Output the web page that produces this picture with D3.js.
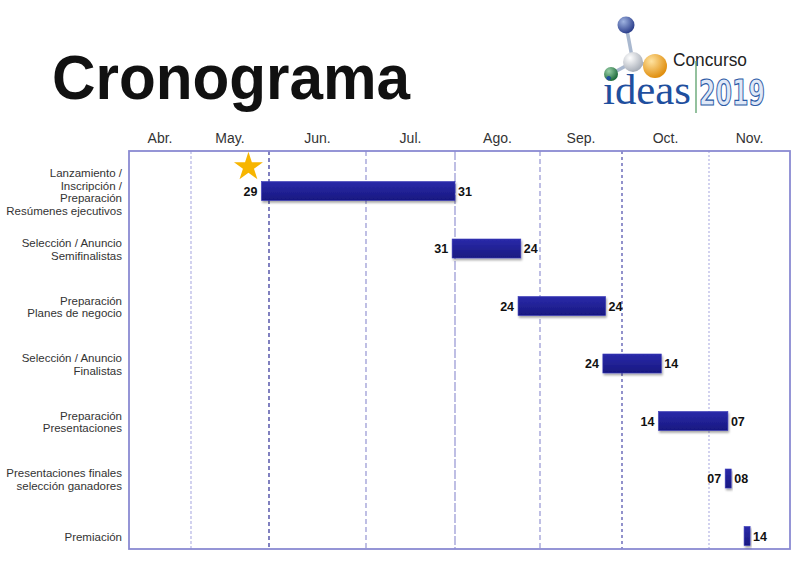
<!DOCTYPE html>
<html>
<head>
<meta charset="utf-8">
<script src="https://cdn.jsdelivr.net/npm/d3@7"></script>
<style>
  html, body { margin: 0; padding: 0; background: #fff; }
  svg { display: block; }
</style>
</head>
<body>
<svg id="chart" width="800" height="563"></svg>
<script>
// ---------- DATA ----------
const titleText = "Cronograma";
const months = ["Abr.", "May.", "Jun.", "Jul.", "Ago.", "Sep.", "Oct.", "Nov."];
const monthStarts = ["2019-04-01", "2019-05-01", "2019-06-01", "2019-07-01", "2019-08-01",
                     "2019-09-01", "2019-10-01", "2019-11-01", "2019-12-01"];
const taskLabels = [
  ["Lanzamiento /", "Inscripción /", "Preparación", "Resúmenes ejecutivos"],
  ["Selección / Anuncio", "Semifinalistas"],
  ["Preparación", "Planes de negocio"],
  ["Selección / Anuncio", "Finalistas"],
  ["Preparación", "Presentaciones"],
  ["Presentaciones finales", "selección ganadores"],
  ["Premiación"]
];
const startDates = ["2019-05-29", "2019-07-31", "2019-08-24", "2019-09-24", "2019-10-14", "2019-11-07", "2019-11-14"];
const endDates   = ["2019-07-31", "2019-08-24", "2019-09-24", "2019-10-14", "2019-11-07", "2019-11-08", "2019-11-14"];
const startLabels = ["29", "31", "24", "24", "14", "07", ""];
const endLabels   = ["31", "24", "24", "14", "07", "08", "14"];
const logoWord1 = "Concurso";
const logoWord2 = "ideas";
const logoYear = "2019";

// ---------- SETUP ----------
const svg = d3.select("#chart");
const parse = d3.timeParse("%Y-%m-%d");
const frame = { left: 129, right: 790, top: 151, bottom: 549 };

const x = d3.scaleTime()
  .domain(monthStarts.map(parse))
  .range([129, 191, 269, 366, 455, 540, 622, 709, 790]);

const rows = taskLabels.map((d, i) => i);
const y = d3.scalePoint().domain(rows).range([191, 536]);

const defs = svg.append("defs");
const grad = defs.append("linearGradient").attr("id", "barGrad")
  .attr("x1", 0).attr("y1", 0).attr("x2", 0).attr("y2", 1);
grad.append("stop").attr("offset", "0%").attr("stop-color", "#2a2aaa");
grad.append("stop").attr("offset", "100%").attr("stop-color", "#181880");
const shadow = defs.append("filter").attr("id", "shadow")
  .attr("x", "-20%").attr("y", "-30%").attr("width", "150%").attr("height", "180%");
shadow.append("feDropShadow").attr("dx", 1).attr("dy", 2).attr("stdDeviation", 1.2)
  .attr("flood-color", "#000").attr("flood-opacity", 0.35);

function ball(id, c1, c2) {
  const g = defs.append("radialGradient").attr("id", id)
    .attr("cx", "35%").attr("cy", "30%").attr("r", "70%");
  g.append("stop").attr("offset", "0%").attr("stop-color", c1);
  g.append("stop").attr("offset", "100%").attr("stop-color", c2);
}
ball("ballBlue", "#9fb3e0", "#2c3f8c");
ball("ballWhite", "#ffffff", "#a8aeb8");
ball("ballOrange", "#ffe3a0", "#e08f10");
ball("ballGreen", "#9ad0a8", "#1d6a3a");

// ---------- TITLE ----------
svg.append("text")
  .attr("x", 52).attr("y", 99)
  .attr("font-family", "Liberation Sans, Arial, sans-serif")
  .attr("font-weight", "bold").attr("font-size", 63)
  .attr("textLength", 358).attr("lengthAdjust", "spacingAndGlyphs")
  .attr("fill", "#111").text(titleText);

// ---------- LOGO ----------
const logo = svg.append("g");
const balls = [
  { cx: 626, cy: 25, r: 8.5, f: "ballBlue" },
  { cx: 633, cy: 62, r: 10, f: "ballWhite" },
  { cx: 655, cy: 66, r: 12, f: "ballOrange" },
  { cx: 611, cy: 74, r: 7, f: "ballGreen" }
];
[[0, 1], [1, 2], [1, 3]].forEach(([a, b]) => {
  logo.append("line")
    .attr("x1", balls[a].cx).attr("y1", balls[a].cy)
    .attr("x2", balls[b].cx).attr("y2", balls[b].cy)
    .attr("stroke", "#a9b8cf").attr("stroke-width", 3.5);
});
logo.selectAll("circle.ball").data(balls).join("circle")
  .attr("class", "ball")
  .attr("cx", d => d.cx).attr("cy", d => d.cy).attr("r", d => d.r)
  .attr("fill", d => `url(#${d.f})`);
logo.append("text").attr("x", 673).attr("y", 66)
  .attr("font-family", "Liberation Sans, Arial, sans-serif").attr("font-size", 18)
  .attr("textLength", 74).attr("lengthAdjust", "spacingAndGlyphs")
  .attr("fill", "#222").text(logoWord1);
logo.append("text").attr("x", 603).attr("y", 104)
  .attr("font-family", "Liberation Serif, serif").attr("font-size", 42)
  .attr("textLength", 88).attr("lengthAdjust", "spacingAndGlyphs")
  .attr("fill", "#1f4f9e").text(logoWord2);
logo.append("line").attr("x1", 696).attr("x2", 696).attr("y1", 61).attr("y2", 113)
  .attr("stroke", "#5aa06a").attr("stroke-width", 1.3);
logo.append("text").attr("x", 699).attr("y", 105)
  .attr("font-family", "Liberation Sans Narrow, DejaVu Sans Condensed, sans-serif")
  .attr("font-weight", "bold").attr("font-size", 36)
  .attr("textLength", 66).attr("lengthAdjust", "spacingAndGlyphs")
  .attr("fill", "#dfe8f7").attr("stroke", "#2b5aa6").attr("stroke-width", 1.2)
  .text(logoYear);

// ---------- MONTH HEADERS ----------
const starts = monthStarts.map(parse);
svg.append("g").selectAll("text").data(months).join("text")
  .attr("x", (d, i) => (x(starts[i]) + x(starts[i + 1])) / 2)
  .attr("y", 143)
  .attr("text-anchor", "middle")
  .attr("font-family", "Liberation Sans, Arial, sans-serif")
  .attr("font-size", 14).attr("fill", "#333")
  .text(d => d);

// ---------- GRID LINES ----------
const gridStyles = [
  { c: "#b4b4e4", dash: "3,2" },
  { c: "#2e2e96", dash: "4,3" },
  { c: "#9494d2", dash: "5,3" },
  { c: "#9494d2", dash: "9,2" },
  { c: "#9494d2", dash: "5,3" },
  { c: "#4a4aaa", dash: "3,3" },
  { c: "#b4b4e4", dash: "2,2" }
];
svg.append("g").selectAll("line").data(starts.slice(1, -1)).join("line")
  .attr("x1", d => x(d)).attr("x2", d => x(d))
  .attr("y1", frame.top).attr("y2", frame.bottom)
  .attr("stroke", (d, i) => gridStyles[i].c)
  .attr("stroke-width", 1.2)
  .attr("stroke-dasharray", (d, i) => gridStyles[i].dash);

// ---------- FRAME ----------
svg.append("rect")
  .attr("x", frame.left).attr("y", frame.top)
  .attr("width", frame.right - frame.left).attr("height", frame.bottom - frame.top)
  .attr("fill", "none").attr("stroke", "#8a8ad2").attr("stroke-width", 1.8);

// ---------- ROW LABELS ----------
const lh = 12.5;
svg.append("g").selectAll("text").data(taskLabels).join("text")
  .attr("text-anchor", "end")
  .attr("font-family", "Liberation Sans, Arial, sans-serif")
  .attr("font-size", 11.5).attr("fill", "#333")
  .each(function (lines, i) {
    const t = d3.select(this);
    const y0 = y(i) + 5 - (lines.length - 1) * lh / 2;
    lines.forEach((ln, k) => {
      t.append("tspan").attr("x", 122).attr("y", y0 + k * lh).text(ln);
    });
  });

// ---------- BARS ----------
const day = 864e5;
const bars = rows.map(i => {
  const s = x(parse(startDates[i]));
  const e = x(new Date(parse(endDates[i]).getTime() + day));
  return { i, s, e: Math.max(e, s + 6) };
});
const barH = 19;
svg.append("g").selectAll("rect").data(bars).join("rect")
  .attr("x", d => d.s).attr("y", d => y(d.i) - barH / 2)
  .attr("width", d => d.e - d.s).attr("height", barH)
  .attr("fill", "url(#barGrad)")
  .attr("stroke", "#3a3ab8").attr("stroke-width", 0.6)
  .attr("filter", "url(#shadow)");

// ---------- DATE LABELS ----------
const lbl = svg.append("g")
  .attr("font-family", "Liberation Sans, Arial, sans-serif")
  .attr("font-weight", "bold").attr("font-size", 12.5).attr("fill", "#111");
lbl.selectAll("text.s").data(bars.filter(d => startLabels[d.i])).join("text")
  .attr("class", "s")
  .attr("x", d => d.s - 4).attr("y", d => y(d.i) + 4.5)
  .attr("text-anchor", "end").text(d => startLabels[d.i]);
lbl.selectAll("text.e").data(bars.filter(d => endLabels[d.i])).join("text")
  .attr("class", "e")
  .attr("x", d => d.e + 3).attr("y", d => y(d.i) + 4.5)
  .attr("text-anchor", "start").text(d => endLabels[d.i]);

// ---------- STAR (launch marker) ----------
const star = d3.symbol().type(d3.symbolStar).size(260);
svg.append("path")
  .attr("d", star())
  .attr("transform", `translate(${bars[0].s - 13},${y(0) - 24})`)
  .attr("fill", "#f7b500");
</script>
</body>
</html>
